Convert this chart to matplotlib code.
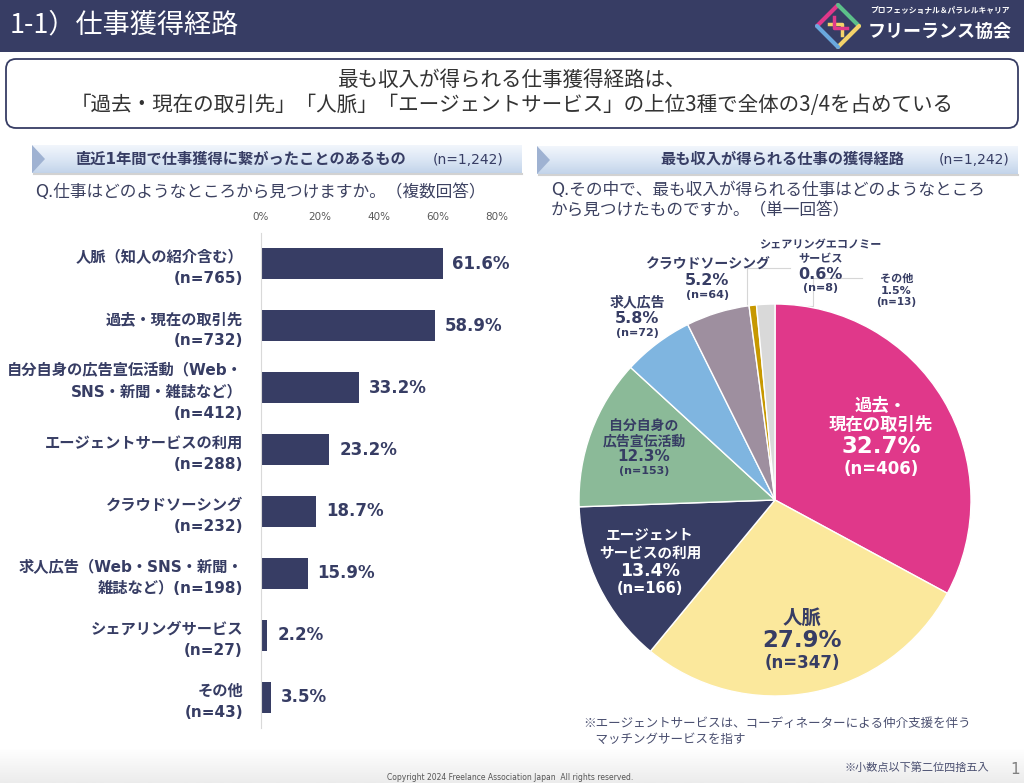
import numpy as np
import matplotlib
matplotlib.use("Agg")
import matplotlib.pyplot as plt
from matplotlib.patches import Rectangle, Polygon, FancyBboxPatch
from matplotlib.offsetbox import TextArea, VPacker, AnnotationBbox

# latin in a Verdana-like face, Japanese falls back to Noto CJK
plt.rcParams['font.family'] = ['DejaVu Sans', 'Noto Sans CJK JP']
JP = ['Noto Sans CJK JP', 'DejaVu Sans']

NAVY = '#373d64'

# --- left: multiple answers (bar chart) ---
bar_labels = [
    "人脈（知人の紹介含む）\n(n=765)",
    "過去・現在の取引先\n(n=732)",
    "自分自身の広告宣伝活動（Web・\nSNS・新聞・雑誌など）\n(n=412)",
    "エージェントサービスの利用\n(n=288)",
    "クラウドソーシング\n(n=232)",
    "求人広告（Web・SNS・新聞・\n雑誌など）(n=198)",
    "シェアリングサービス\n(n=27)",
    "その他\n(n=43)",
]
bar_values = [61.6, 58.9, 33.2, 23.2, 18.7, 15.9, 2.2, 3.5]
bar_ticks = [0, 20, 40, 60, 80]

# --- right: single answer (pie chart) ---
pie_names = ["過去・\n現在の取引先", "人脈", "エージェント\nサービスの利用",
             "自分自身の\n広告宣伝活動", "求人広告", "クラウドソーシング",
             "シェアリングエコノミー\nサービス", "その他"]
pie_values = [32.7, 27.9, 13.4, 12.3, 5.8, 5.2, 0.6, 1.5]
pie_counts = [406, 347, 166, 153, 72, 64, 8, 13]
pie_colors = ['#e0388a', '#fbe89c', NAVY, '#8bba98', '#7fb5e0', '#9e8f9f', '#c79800', '#d9d9d9']
pie_text_colors = ['white', NAVY, 'white', NAVY, NAVY, NAVY, NAVY, NAVY]
# font sizes (name, pct, n) and label placement (radius, angle override)
pie_font = [(12.5, 16.5, 12), (14, 16.5, 12), (10.5, 12.5, 10.5), (10, 11, 8),
            (10, 11.5, 8), (10, 11.5, 8), (8, 11.5, 8), (8, 8, 7.5)]
pie_place = [(0.63, None), (0.73, None), (0.71, None), (0.72, 158),
             (1.17, None), (1.18, None), (1.22, 79), (1.24, 60)]

W, H = 1024, 783
fig = plt.figure(figsize=(W / 100, H / 100), dpi=100)

# background / slide decoration in pixel coords
bg = fig.add_axes([0, 0, 1, 1])
bg.axis('off')

# header band
bg.add_patch(Rectangle((0, 0), W, 52, color=NAVY, lw=0))
bg.text(10, 25, "1-1）仕事獲得経路", color='white', fontsize=19.5, va='center', ha='left', family=JP)

# logo (rough)
cx, cy, s = 838, 26, 21
bg.plot([cx - s, cx], [cy, cy - s], color='#e0388a', lw=3, solid_capstyle='round')
bg.plot([cx, cx + s], [cy - s, cy], color='#5cc08a', lw=3, solid_capstyle='round')
bg.plot([cx + s, cx], [cy, cy + s], color='#f5d36a', lw=3, solid_capstyle='round')
bg.plot([cx, cx - s], [cy + s, cy], color='#6aa8de', lw=3, solid_capstyle='round')
bg.plot([cx - 9, cx + 4, cx + 4], [cy - 2, cy - 2, cy + 9], color='#f5d36a', lw=2.5)
bg.plot([cx + 9, cx - 4, cx - 4], [cy + 2, cy + 2, cy - 9], color='#e0388a', lw=2.5)
bg.text(870, 11, "プロフェッショナル＆パラレルキャリア", color='white', fontsize=5.6,
        fontweight='bold', va='center', ha='left', family=JP)
bg.text(868, 31, "フリーランス協会", color='white', fontsize=13, fontweight='bold',
        va='center', ha='left', family=JP)

# subtitle box
bg.add_patch(FancyBboxPatch((6, 59), 1012, 69, boxstyle="round,pad=0,rounding_size=10",
                            fc='white', ec=NAVY, lw=1.3))
bg.text(512, 80, "最も収入が得られる仕事獲得経路は、", fontsize=14.8, color='#333333',
        ha='center', va='center', family=JP)
bg.text(512, 105, "「過去・現在の取引先」「人脈」「エージェントサービス」の上位3種で全体の3/4を占めている",
        fontsize=14.8, color='#333333', ha='center', va='center', family=JP)

# section ribbons
grad = np.linspace(0, 1, 64).reshape(-1, 1)
ribbon_cmap = matplotlib.colors.LinearSegmentedColormap.from_list(
    'rib', ['#f2f6fc', '#dce7f5', '#c3d4ea'])


def ribbon(x0, x1, y0, y1):
    poly = Polygon([(x0, y0), (x1, y0), (x1, y1), (x0, y1)], closed=True,
                   fc='none', ec='none')
    bg.add_patch(poly)
    im = bg.imshow(grad, cmap=ribbon_cmap, aspect='auto',
                   extent=(x0, x1, y1, y0), origin='upper', zorder=1)
    im.set_clip_path(poly)
    bg.plot([x0 + 2, x1], [y1 + 1, y1 + 1], color='#bfbfbf', lw=1.5, alpha=0.7, zorder=1)
    bg.add_patch(Polygon([(x0, y0), (x0 + 13, (y0 + y1) / 2), (x0, y1)],
                         closed=True, fc='#9fb2d2', ec='none', zorder=2))


ribbon(32, 522, 145, 173)
ribbon(537, 1018, 146, 174)
bg.text(240, 159, "直近1年間で仕事獲得に繋がったことのあるもの", fontsize=11, fontweight='bold',
        color=NAVY, ha='center', va='center', zorder=3)
bg.text(468, 160, "(n=1,242)", fontsize=10, color=NAVY, ha='center', va='center', zorder=3)
bg.text(782, 159, "最も収入が得られる仕事の獲得経路", fontsize=11, fontweight='bold',
        color=NAVY, ha='center', va='center', zorder=3)
bg.text(974, 160, "(n=1,242)", fontsize=10, color=NAVY, ha='center', va='center', zorder=3)

bg.text(35, 192, "Q.仕事はどのようなところから見つけますか。（複数回答）", fontsize=12,
        color='#3c4160', ha='left', va='center')
bg.text(551, 200, "Q.その中で、最も収入が得られる仕事はどのようなところ\nから見つけたものですか。（単一回答）",
        fontsize=12, color='#3c4160', ha='left', va='center', linespacing=1.15)

# leader lines near small slices
bg.plot([790, 747, 747, 813, 813, 862], [268, 268, 306, 306, 278, 278],
        color='#d6d6d6', lw=0.8, zorder=0)

# footnotes
bg.text(583, 731, "※エージェントサービスは、コーディネーターによる仲介支援を伴う\n　マッチングサービスを指す",
        fontsize=9, color='#4a4f70', ha='left', va='center', linespacing=1.3, family=JP)

# footer gradient
foot = np.linspace(0, 1, 32).reshape(-1, 1)
foot_cmap = matplotlib.colors.LinearSegmentedColormap.from_list('foot', ['#ffffff', '#ececec'])
bg.imshow(foot, cmap=foot_cmap, aspect='auto', extent=(0, W, H, 748), origin='upper', zorder=0)
bg.text(845, 767, "※小数点以下第二位四捨五入", fontsize=8, color='#4a4f70', ha='left', va='center', family=JP)
bg.text(510, 777, "Copyright 2024 Freelance Association Japan  All rights reserved.",
        fontsize=5.5, color='#555555', ha='center', va='center')
bg.text(1020, 769, "1", fontsize=11, color='#808080', ha='right', va='center')

bg.set_xlim(0, W)
bg.set_ylim(H, 0)

# ---- bar chart ----
ax = fig.add_axes([261 / W, 1 - 728 / H, 236 / W, 495 / H])
ax.patch.set_alpha(0)
y = np.arange(len(bar_values))
bars = ax.barh(y, bar_values, height=0.5, color=NAVY)
ax.set_ylim(len(bar_values) - 0.5, -0.5)
ax.set_xlim(0, 80)
ax.bar_label(bars, fmt='%.1f%%', padding=7, fontsize=12, fontweight='bold', color=NAVY)
ax.set_yticks(y)
ax.set_yticklabels(bar_labels, fontsize=11, fontweight='bold', color=NAVY, linespacing=1.5)
ax.xaxis.tick_top()
ax.set_xticks(bar_ticks)
ax.set_xticklabels([f"{t}%" for t in bar_ticks], fontsize=7.5, color='#595959')
ax.tick_params(axis='both', length=0)
ax.tick_params(axis='y', pad=13)
ax.tick_params(axis='x', pad=8)
for side in ['top', 'right', 'bottom']:
    ax.spines[side].set_visible(False)
ax.spines['left'].set_color('#d9d9d9')

# ---- pie chart ----
pr = 196
pcx, pcy = 775, 500
pax = fig.add_axes([(pcx - pr) / W, 1 - (pcy + pr) / H, 2 * pr / W, 2 * pr / H])
wedges, _ = pax.pie(pie_values, colors=pie_colors, startangle=90, counterclock=False,
                    wedgeprops=dict(edgecolor='white', linewidth=1))
pax.set_xlim(-1, 1)
pax.set_ylim(-1, 1)

for i, w in enumerate(wedges):
    r, ang = pie_place[i]
    if ang is None:
        ang = (w.theta1 + w.theta2) / 2
    x = r * np.cos(np.deg2rad(ang))
    yy = r * np.sin(np.deg2rad(ang))
    fn, fp, fc = pie_font[i]
    col = pie_text_colors[i]
    parts = [
        TextArea(pie_names[i], textprops=dict(fontsize=fn, fontweight='bold', color=col,
                                              multialignment='center', linespacing=1.15,
                                              family=JP)),
        TextArea(f"{pie_values[i]:.1f}%", textprops=dict(fontsize=fp, fontweight='bold', color=col)),
        TextArea(f"(n={pie_counts[i]})", textprops=dict(fontsize=fc, fontweight='bold', color=col)),
    ]
    box = VPacker(children=parts, align='center', pad=0, sep=1)
    ab = AnnotationBbox(box, (x, yy), xycoords='data', frameon=False,
                        box_alignment=(0.5, 0.5), annotation_clip=False)
    pax.add_artist(ab)

fig.savefig("out.png", dpi=100)
